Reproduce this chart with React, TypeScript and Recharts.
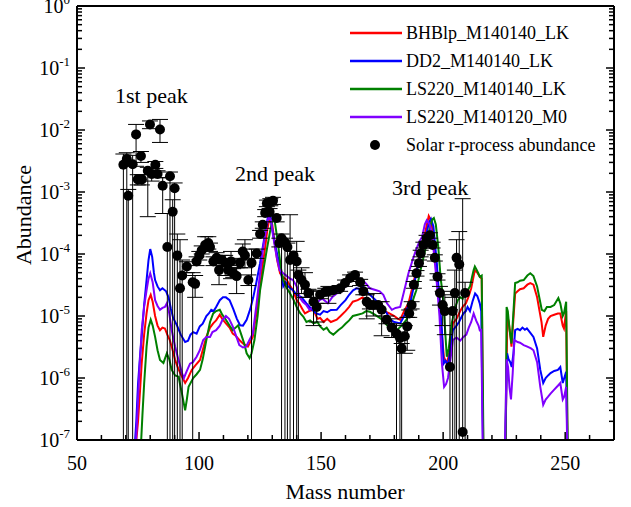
import {
  ComposedChart,
  Line,
  Scatter,
  ErrorBar,
  XAxis,
  YAxis,
  Legend,
  Customized,
} from "recharts";

const FONT = '"Liberation Serif", "Times New Roman", Times, serif';

// model curves, mass number vs abundance (1e-7 = drops to the bottom axis, null = gap)
const bhblpMass = [74.3, 75, 75.8, 76.5, 77.5, 78.5, 79.3, 80.2, 81, 82, 83, 84, 85, 86, 87, 88, 89, 90.2, 91.5, 93, 94.3, 95.5, 97, 98.5, 100.4, 101.5, 103, 104.5, 105.8, 107, 108.5, 109.5, 111, 112.5, 113.8, 115, 116.5, 118, 120, 121, 122, 123.5, 125, 126, 127, 128, 129, 130, 131, 132, 133.2, 134.5, 136, 137, 138.5, 140, 141, 142.3, 143.4, 145, 146.9, 148.5, 149.6, 151, 152.5, 154, 156.4, 158, 160, 161.5, 163, 165, 167, 168.5, 170, 172, 174, 176, 178, 180, 181.5, 182.4, 184, 185.8, 187.5, 189, 190.5, 192, 193.2, 194.1, 195, 196, 197.4, 198.5, 199.5, 200.3, 201.5, 202.5, 204, 205.5, 207, 208, 209.3, 210.3, 211.5, 212.3, 213, 214, 215, 215.8, 216.4, 220, 225.6, 226.3, 226.9, 227.5, 228, 228.7, 229.5, 230.5, 231.5, 233, 234.5, 235.7, 237, 238.5, 239.5, 240.3, 241, 242, 243, 244, 245.5, 247, 248, 249, 249.5, 250.4, 250.9];
const bhblpAbund = [1e-7, 2e-7, 6e-7, 1.7e-6, 5e-6, 1.1e-5, 1.8e-5, 2.2e-5, 1.7e-5, 1e-5, 7e-6, 5.9e-6, 6.5e-6, 6.3e-6, 5e-6, 4.1e-6, 3e-6, 1.95e-6, 1.4e-6, 1.05e-6, 8.3e-7, 1e-6, 1.35e-6, 1.6e-6, 1.95e-6, 2.8e-6, 4.6e-6, 6.5e-6, 7.6e-6, 8.5e-6, 1.05e-5, 9e-6, 7.6e-6, 6.5e-6, 5.2e-6, 4.8e-6, 4.1e-6, 3.6e-6, 3.2e-6, 3.8e-6, 4.6e-6, 1.1e-5, 3e-5, 6.5e-5, 1.2e-4, 2.5e-4, 4e-4, 3e-4, 1.5e-4, 8e-5, 4.9e-5, 4.2e-5, 3.8e-5, 3.2e-5, 2.6e-5, 1.8e-5, 1.6e-5, 1.3e-5, 1.1e-5, 1.2e-5, 1.26e-5, 9e-6, 9.3e-6, 8e-6, 9e-6, 8e-6, 8.7e-6, 1e-5, 1.2e-5, 1.4e-5, 1.7e-5, 1.8e-5, 2e-5, 1.8e-5, 1.6e-5, 1.5e-5, 1.35e-5, 1.2e-5, 1.1e-5, 1e-5, 9e-6, 8.7e-6, 1.2e-5, 1.6e-5, 3e-5, 5.5e-5, 1e-4, 1.7e-4, 2.8e-4, 4.1e-4, 3.5e-4, 2e-4, 6e-5, 1.5e-5, 5e-6, 2.2e-6, 1.7e-6, 2.5e-6, 7.6e-6, 9e-6, 1.2e-5, 1.4e-5, 1.6e-5, 2e-5, 2.8e-5, 4e-5, 5.5e-5, 5e-5, 4.3e-5, 4e-5, 1e-7, null, 1e-7, 1e-5, 8e-6, 5e-6, 3.2e-6, 8e-6, 2.3e-5, 2.5e-5, 2.7e-5, 2.8e-5, 3.2e-5, 3.4e-5, 3.2e-5, 2e-5, 1.2e-5, 8e-6, 4.6e-6, 7e-6, 9e-6, 1e-5, 1.05e-5, 1.1e-5, 1.1e-5, 7e-6, 6.3e-6, 1.2e-5, 1e-7];

const dd2Mass = [73.8, 74.3, 75, 75.8, 76.5, 77.5, 78.5, 79.3, 80, 80.8, 81.5, 82, 83, 84, 85, 86.5, 87.5, 88.5, 89.4, 91, 92.5, 94.3, 95.5, 96.5, 97.6, 99, 100.3, 101.5, 103, 104, 105, 106, 107, 108.5, 109.8, 111, 112.5, 114, 115.5, 116.8, 118, 119.5, 121, 122.2, 123.5, 125, 126.5, 127.5, 128.5, 129.3, 130, 131, 132, 133.2, 134.5, 135.5, 136.5, 138.5, 140, 142, 144, 146, 148, 149.6, 151, 152.5, 154, 156.4, 158, 160, 161.5, 163.1, 164.5, 166, 167.2, 168.5, 170, 171.4, 173, 175, 177, 178.3, 180, 182.4, 184, 185.5, 186.5, 188, 189.2, 190.5, 192, 193.2, 194.2, 195, 196, 197.4, 198.5, 199.5, 200.2, 201, 202, 203, 204, 205.5, 206.5, 208.3, 209.3, 210, 211, 212, 213.1, 214, 215, 215.6, 216.3, 220, 225.5, 226.2, 226.8, 227.5, 228.1, 228.8, 229.5, 230.5, 231.5, 232.5, 233.5, 234.3, 235.5, 237, 238.5, 239.8, 241, 242, 243, 244, 245.5, 247, 248, 249, 250.4, 250.9];
const dd2Abund = [1e-7, 2e-7, 8e-7, 2.2e-6, 4.6e-6, 1.5e-5, 3.8e-5, 8e-5, 1.2e-4, 9e-5, 5e-5, 3.8e-5, 3e-5, 2.6e-5, 2.8e-5, 2.5e-5, 2e-5, 1.3e-5, 9.3e-6, 7e-6, 5e-6, 3.8e-6, 4e-6, 5e-6, 5.5e-6, 5.2e-6, 6.8e-6, 7.5e-6, 1e-5, 1.1e-5, 1.26e-5, 1.2e-5, 1.4e-5, 1.8e-5, 2e-5, 2e-5, 1.8e-5, 1.3e-5, 9e-6, 7.1e-6, 7e-6, 8.7e-6, 1.3e-5, 2e-5, 3.5e-5, 7.1e-5, 1.6e-4, 2.8e-4, 4.5e-4, 4e-4, 2.5e-4, 1.5e-4, 1e-4, 6.3e-5, 3e-5, 3.5e-5, 3e-5, 2.6e-5, 2.2e-5, 2e-5, 1.6e-5, 1.3e-5, 1.1e-5, 1.05e-5, 1.2e-5, 1.15e-5, 1.25e-5, 1.26e-5, 1.5e-5, 1.8e-5, 2.2e-5, 2.6e-5, 2.8e-5, 2.7e-5, 3e-5, 2.5e-5, 2.2e-5, 1.95e-5, 1.7e-5, 1.4e-5, 1.1e-5, 8.7e-6, 8e-6, 7.6e-6, 1e-5, 1.4e-5, 1.6e-5, 3e-5, 5.5e-5, 9e-5, 1.5e-4, 2.2e-4, 3.2e-4, 3.7e-4, 2.8e-4, 7.1e-5, 1.8e-5, 5.9e-6, 1.7e-6, 1.9e-6, 1.6e-6, 3e-6, 5.9e-6, 7e-6, 8e-6, 1.1e-5, 1.2e-5, 1.4e-5, 1.2e-5, 1.7e-5, 2.3e-5, 2.1e-5, 1.6e-5, 1.2e-5, 1e-7, null, 1e-7, 2.5e-6, 2e-6, 1.8e-6, 1.5e-6, 2.5e-6, 5.9e-6, 6.2e-6, 5.9e-6, 6.5e-6, 6e-6, 6.3e-6, 5.5e-6, 4.6e-6, 3e-6, 1.35e-6, 8.3e-7, 1e-6, 1.1e-6, 1.2e-6, 1.3e-6, 1.35e-6, 1.5e-6, 8.3e-7, 1.26e-6, 1e-7];

const ls220Mass = [76.3, 76.8, 77.5, 78.5, 79.3, 80.2, 81, 82, 83, 84, 85.4, 86.8, 87.8, 88.8, 90.2, 91.6, 93, 94.3, 95, 95.7, 97.6, 99, 100.4, 101.5, 103, 104.5, 105.8, 107, 108.5, 109.5, 111, 112.5, 113.8, 115, 116, 117.3, 118.5, 119.5, 120.7, 121.5, 122.7, 124, 125, 126.5, 127.8, 129, 130, 130.6, 131.5, 132.5, 133.5, 134.5, 136, 137.3, 138.5, 140, 141.5, 142.7, 144, 145.5, 146.9, 148.5, 149.6, 151, 152.3, 153.5, 155, 157, 158.5, 160, 161.5, 163, 165, 167, 168.5, 170, 172, 174, 175.5, 177, 179, 181, 183, 185, 186.5, 188, 189, 190.5, 192, 193.3, 194.5, 195.5, 196.2, 197, 198, 199, 200, 200.8, 201.5, 202.3, 203.5, 205, 206, 207, 208, 209, 210, 211, 211.8, 212.5, 213, 213.8, 214.5, 215, 215.8, 216.5, 220, 225.6, 226, 226.5, 227.2, 228, 228.7, 229.5, 230.5, 231.5, 233, 234.5, 235.7, 237, 238.5, 239.5, 240.4, 241.5, 242.5, 244, 245.5, 247.2, 248, 249, 249.5, 250.4, 251];
const ls220Abund = [1e-7, 2.5e-7, 8e-7, 3.2e-6, 6.5e-6, 8.7e-6, 7e-6, 4.6e-6, 2.8e-6, 1.95e-6, 1.75e-6, 2.5e-6, 2e-6, 1.35e-6, 1.1e-6, 1.05e-6, 5.6e-7, 3e-7, 4.5e-7, 7.2e-7, 1e-6, 1.15e-6, 1.35e-6, 2e-6, 4.1e-6, 8e-6, 1.1e-5, 1.2e-5, 1.26e-5, 1.05e-5, 8.7e-6, 7e-6, 5.9e-6, 6.5e-6, 7.1e-6, 5e-6, 3.6e-6, 2.5e-6, 2.1e-6, 2.5e-6, 4.1e-6, 1e-5, 2.6e-5, 6e-5, 1.2e-4, 2.2e-4, 3.5e-4, 4.3e-4, 2.5e-4, 1.3e-4, 6e-5, 3.8e-5, 2.8e-5, 2.3e-5, 1.9e-5, 1.4e-5, 1.1e-5, 9.8e-6, 8e-6, 8.5e-6, 7.6e-6, 8e-6, 6.8e-6, 6e-6, 6.5e-6, 5.5e-6, 5e-6, 5.9e-6, 6.5e-6, 7.5e-6, 8.5e-6, 1e-5, 1.05e-5, 1.1e-5, 1.2e-5, 1.17e-5, 1.05e-5, 9.3e-6, 8.5e-6, 7.1e-6, 6.3e-6, 5.9e-6, 7e-6, 8.7e-6, 1.3e-5, 2e-5, 2.6e-5, 5e-5, 9e-5, 1.5e-4, 2.6e-4, 3.6e-4, 3.8e-4, 3e-4, 1.3e-4, 4e-5, 2e-5, 6e-6, 2.2e-6, 3e-6, 7.6e-6, 1.4e-5, 1.8e-5, 2e-5, 1.9e-5, 2.4e-5, 2.6e-5, 3e-5, 4.2e-5, 5.5e-5, 6.3e-5, 5.5e-5, 4.8e-5, 4.3e-5, 4.5e-5, 1e-7, null, 1e-7, 1.4e-5, 1.2e-5, 6e-6, 3.6e-6, 1e-5, 3.4e-5, 3.5e-5, 3.7e-5, 3.8e-5, 4.5e-5, 4.9e-5, 4.4e-5, 3e-5, 1.9e-5, 1.26e-5, 1.2e-5, 1.4e-5, 1.4e-5, 1.5e-5, 1.95e-5, 1.6e-5, 1e-5, 1.1e-5, 1.7e-5, 1e-7];

const m0Mass = [74.2, 74.8, 75.5, 76.5, 77.5, 78.5, 79.3, 80, 81, 82, 83, 84, 85, 86, 86.8, 87.8, 88.8, 90.2, 91.6, 93, 93.8, 95, 96.3, 97.5, 99, 100.3, 101.7, 103, 104.5, 105.5, 107, 108.5, 109.5, 111, 112.3, 113.8, 115, 116.5, 118, 119.3, 120.5, 122, 123.5, 125, 126.3, 127.5, 128.5, 129.5, 130.3, 131.8, 133, 134.5, 136, 137.3, 138.5, 140, 141.2, 142.5, 144, 145.3, 147, 149.4, 150.5, 152.8, 154.5, 156.4, 158, 160, 161.5, 163, 164.5, 166, 167, 168.5, 170, 172.6, 174, 175.5, 177, 179, 180.5, 182.4, 184, 185.8, 187.5, 189, 190.3, 191.4, 192.5, 193.3, 194.5, 195.5, 196.5, 197.4, 198.5, 199.5, 200.4, 201.2, 202, 203, 204, 205.5, 207, 208.3, 209.5, 210.5, 211.5, 212.5, 213.5, 214.5, 215, 215.6, 216.2, 220, 225.4, 226, 226.6, 227.2, 227.8, 228.5, 229.2, 230.5, 231.5, 233, 234.5, 236, 237, 238.5, 239.8, 241, 242, 243, 244, 245.5, 247, 248, 249, 249.6, 250.4, 250.8];
const m0Abund = [1e-7, 3e-7, 1.2e-6, 5.9e-6, 1.4e-5, 2.6e-5, 4e-5, 4.9e-5, 3.5e-5, 1.8e-5, 1.45e-5, 1.26e-5, 1.35e-5, 1.4e-5, 1.6e-5, 1.1e-5, 5.9e-6, 3.2e-6, 1.95e-6, 1.2e-6, 1e-6, 1.3e-6, 1.7e-6, 1.8e-6, 2.2e-6, 2.8e-6, 4.1e-6, 4.6e-6, 4.6e-6, 5.5e-6, 5.9e-6, 7e-6, 8.5e-6, 1e-5, 9e-6, 6.8e-6, 5e-6, 3.4e-6, 3.1e-6, 3.2e-6, 4e-6, 5.2e-6, 1.5e-5, 4.9e-5, 1.3e-4, 2.5e-4, 4e-4, 3.5e-4, 2e-4, 9e-5, 5.5e-5, 4.9e-5, 4.4e-5, 4e-5, 3.8e-5, 3e-5, 2e-5, 1.7e-5, 1.5e-5, 1.26e-5, 1.4e-5, 1.8e-5, 1.9e-5, 1.6e-5, 2e-5, 2.3e-5, 2.6e-5, 3e-5, 3.5e-5, 4.3e-5, 4.5e-5, 3.8e-5, 3.8e-5, 3.3e-5, 2.8e-5, 2.6e-5, 2.5e-5, 2.2e-5, 1.6e-5, 1.26e-5, 1.35e-5, 1.4e-5, 2.5e-5, 4.9e-5, 8e-5, 1.2e-4, 1.6e-4, 1.9e-4, 3e-4, 3.5e-4, 3e-4, 2e-4, 8e-5, 3.4e-5, 1e-5, 1.7e-6, 7.2e-7, 8e-7, 1e-6, 2e-6, 4.1e-6, 4.5e-6, 4e-6, 4.6e-6, 5e-6, 6.5e-6, 8e-6, 1.1e-5, 8.5e-6, 7e-6, 5.9e-6, 6e-6, 1e-7, null, 1e-7, 2e-6, 1.5e-6, 7e-7, 4.5e-7, 1.2e-6, 4.1e-6, 3.8e-6, 3.7e-6, 3.4e-6, 3.2e-6, 3e-6, 2.8e-6, 1.8e-6, 7.2e-7, 3.7e-7, 4.5e-7, 5e-7, 5.6e-7, 6.5e-7, 7.5e-7, 8.3e-7, 4.5e-7, 5e-7, 7.2e-7, 1e-7];

// solar r-process abundance with error bar ends (1e-7 = bar runs down to the axis)
const solarMass = [69, 70.4, 71, 72.8, 74.2, 74.9, 76.2, 76.6, 79, 79.9, 80.6, 82.1, 83, 84, 85.1, 87, 88.1, 89.2, 90, 91.1, 92.2, 93.1, 95, 97.4, 98.4, 99, 100.1, 101.1, 102.5, 103.8, 104.5, 105.9, 107.2, 108.2, 109.3, 110.7, 112, 113.1, 114, 115.4, 116.8, 117.9, 118.8, 120.2, 121.5, 123.6, 125, 126.1, 127.1, 127.8, 128.9, 129.2, 130.3, 131.8, 132.9, 133.8, 135.2, 136.2, 137.3, 138.7, 140, 140.7, 142, 143.4, 144.8, 146.9, 148.2, 149.6, 151.7, 153, 155, 157.8, 159.8, 161.9, 163.9, 166, 167.3, 168.7, 170, 171.4, 173.4, 174.8, 176.8, 178.9, 180.9, 182.3, 183, 184.3, 185.3, 186.1, 187.1, 188, 189.1, 190.1, 190.8, 191.9, 193.2, 194.6, 195.7, 196.6, 197.7, 198.7, 199.8, 200.7, 202.8, 203.9, 204.8, 205.5, 206.6, 208, 209];
const solarAbund = [2.75e-3, 3.4e-3, 8.7e-4, 2.8e-3, 8.5e-3, 1.6e-3, 3.8e-3, 1.6e-3, 2.2e-3, 1.23e-2, 1.95e-3, 2.75e-3, 1.95e-3, 1.02e-2, 1.26e-3, 1.3e-4, 1.8e-3, 4.8e-4, 1.15e-3, 9.5e-5, 2.8e-5, 4.5e-5, 6.3e-5, 3.5e-5, 3.3e-5, 7.6e-5, 9.5e-5, 1.15e-4, 1.4e-4, 1.5e-4, 1.3e-4, 7.6e-5, 8.7e-5, 5.5e-5, 8.1e-5, 7.2e-5, 5.5e-5, 7.6e-5, 4.9e-5, 4.4e-5, 7.2e-5, 1.1e-4, 9.5e-5, 3.8e-5, 7.2e-5, 1.02e-4, 2.1e-4, 2.95e-4, 4.6e-4, 6.6e-4, 4.8e-4, 6.9e-4, 7.2e-4, 3.8e-4, 1.5e-4, 1.8e-4, 1.55e-4, 1.3e-4, 8e-5, 9.5e-5, 7.6e-5, 4.6e-5, 3.8e-5, 3.2e-5, 2.35e-5, 1.7e-5, 1.4e-5, 2.2e-5, 2.45e-5, 2.5e-5, 2.6e-5, 2.8e-5, 3.4e-5, 4.1e-5, 4.6e-5, 3.5e-5, 2.5e-5, 1.7e-5, 1.5e-5, 1.5e-5, 1.5e-5, 1.26e-5, 8.7e-6, 6.5e-6, 5.2e-6, 4.4e-6, 3e-6, 4.7e-6, 6.8e-6, 1.1e-5, 1.5e-5, 3.2e-5, 4.9e-5, 7.1e-5, 1.02e-4, 1.4e-4, 1.8e-4, 2e-4, 1.4e-4, 8.7e-5, 4.3e-5, 2.35e-5, 1.5e-5, 1.2e-5, 1.5e-6, 1.2e-5, 2.35e-5, 8.7e-5, 6.8e-5, 1.35e-7, 2.35e-5];
const solarHigh = [4.1e-3, 4.3e-3, 1.1e-3, 3.9e-3, 1.23e-2, 1.9e-3, 4.5e-3, 1.9e-3, 2.5e-3, 1.4e-2, 2.4e-3, 3.1e-3, 2.2e-3, 1.48e-2, 1.7e-3, 4.5e-4, 2.1e-3, 7.5e-4, 1.4e-3, 2.1e-4, 1.7e-4, 8e-5, 7.5e-5, 5e-5, 4.5e-5, 9e-5, 1.1e-4, 1.35e-4, 1.9e-4, 1.9e-4, 1.5e-4, 9e-5, 1.05e-4, 7e-5, 9.5e-5, 9.5e-5, 6.5e-5, 1.1e-4, 5.8e-5, 6e-5, 8.5e-5, 1.45e-4, 1.7e-4, 4.6e-5, 1.2e-4, 1.2e-4, 2.4e-4, 3.3e-4, 5.2e-4, 7.4e-4, 5.4e-4, 7.8e-4, 8.2e-4, 4.3e-4, 1.8e-4, 2.1e-4, 1.8e-4, 1.5e-4, 4.3e-4, 1.1e-4, 1.6e-4, 5.5e-5, 6e-5, 5e-5, 2.7e-5, 2.6e-5, 1.6e-5, 2.5e-5, 2.8e-5, 3e-5, 2.9e-5, 3.1e-5, 3.8e-5, 4.6e-5, 5.1e-5, 3.9e-5, 2.8e-5, 2.2e-5, 1.7e-5, 2.3e-5, 1.7e-5, 1.7e-5, 1e-5, 9e-6, 7.5e-6, 5.5e-6, 3.6e-6, 7e-6, 9.5e-6, 1.25e-5, 1.7e-5, 3.6e-5, 5.4e-5, 8e-5, 1.15e-4, 1.55e-4, 2e-4, 2.2e-4, 1.55e-4, 9.7e-5, 4.8e-5, 3e-5, 2.5e-5, 2.2e-5, 1.26e-5, 2e-5, 5.5e-5, 1.7e-4, 2.3e-4, 7.8e-4, 3.5e-5];
const solarLow = [1e-7, 1e-7, 1e-7, 1e-7, 2.6e-3, 1.3e-3, 3e-3, 1.3e-3, 4e-4, 1.05e-2, 1.5e-3, 2.4e-3, 1.7e-3, 6.3e-3, 4.5e-4, 1e-7, 1e-7, 1e-7, 1e-7, 1e-7, 1e-7, 1e-7, 5e-5, 1e-7, 2e-5, 6.5e-5, 8e-5, 1e-4, 1.15e-4, 1.2e-4, 1.1e-4, 6.5e-5, 7.5e-5, 3.2e-5, 7e-5, 4.5e-5, 4.5e-5, 4e-5, 4.2e-5, 2.3e-5, 6e-5, 8e-5, 6e-5, 3.1e-5, 1e-7, 8.5e-5, 1.8e-4, 2.6e-4, 4e-4, 5.8e-4, 4.2e-4, 6e-4, 6.3e-4, 3.3e-4, 1.3e-4, 1e-7, 1e-7, 1e-7, 1e-7, 1e-7, 1e-7, 1e-7, 2.3e-5, 2e-5, 2e-5, 7e-6, 8e-6, 1.9e-5, 2.1e-5, 1.6e-5, 2.3e-5, 2.5e-5, 3e-5, 3.6e-5, 4.1e-5, 3.1e-5, 2.2e-5, 9e-6, 1.3e-5, 1e-5, 1.3e-5, 4.8e-6, 7.5e-6, 4.5e-6, 1e-7, 1e-7, 1e-7, 2.5e-6, 2.8e-6, 9.5e-6, 1.3e-5, 2.8e-5, 4.4e-5, 6.3e-5, 9e-5, 1.25e-4, 1.6e-4, 1.8e-4, 1.25e-4, 7.7e-5, 3.8e-5, 1.5e-5, 7e-6, 5e-6, 1e-7, 1e-7, 1e-7, 1e-7, 1e-7, 1e-7, 1e-7];

const legendNames = ["BHBlp_M140140_LK", "DD2_M140140_LK", "LS220_M140140_LK", "LS220_M140120_M0"];
const legendColors = ["#ff0000", "#0000ff", "#008000", "#8000ff"];
const solarName = "Solar r-process abundance";

const xTicks = [50, 60, 70, 80, 90, 100, 110, 120, 130, 140, 150, 160, 170, 180, 190, 200, 210, 220, 230, 240, 250, 260, 270];
const yDecades = [1e-7, 1e-6, 1e-5, 1e-4, 1e-3, 1e-2, 1e-1, 1];
const yTicks = yDecades.flatMap((d) => (d === 1 ? [1] : [1, 2, 3, 4, 5, 6, 7, 8, 9].map((k) => k * d)));

const toRows = (mass: number[], abund: (number | null)[]) => mass.map((A, i) => ({ A, y: abund[i] }));
const series = [
  toRows(bhblpMass, bhblpAbund),
  toRows(dd2Mass, dd2Abund),
  toRows(ls220Mass, ls220Abund),
  toRows(m0Mass, m0Abund),
];
const solarData = solarMass.map((A, i) => ({
  A,
  y: solarAbund[i],
  err: [solarAbund[i] - solarLow[i], solarHigh[i] - solarAbund[i]],
}));

const isDecade = (v: number) => Math.abs(Math.log10(v) - Math.round(Math.log10(v))) < 1e-6;

const BottomTick = ({ x, y, payload }: any) => {
  const v = payload.value;
  const major = v % 50 === 0;
  return (
    <g>
      <line x1={x} x2={x} y1={y} y2={y - (major ? 8 : 5)} stroke="#000" strokeWidth={1.5} />
      {major && v <= 250 && (
        <text x={x} y={y + 30} textAnchor="middle" fontSize={20} fontFamily={FONT} fill="#000">
          {v}
        </text>
      )}
    </g>
  );
};

const TopTick = ({ x, y, payload }: any) => {
  const major = payload.value % 50 === 0;
  return <line x1={x} x2={x} y1={y} y2={y + (major ? 8 : 5)} stroke="#000" strokeWidth={1.5} />;
};

const LeftTick = ({ x, y, payload }: any) => {
  const v = payload.value;
  const major = isDecade(v);
  return (
    <g>
      <line x1={x} x2={x + (major ? 8 : 5)} y1={y} y2={y} stroke="#000" strokeWidth={1.5} />
      {major && (
        <text x={x - 7} y={y + 7} textAnchor="end" fontSize={20} fontFamily={FONT} fill="#000">
          10
          <tspan dy={-9} fontSize={13}>
            {Math.round(Math.log10(v))}
          </tspan>
        </text>
      )}
    </g>
  );
};

const RightTick = ({ x, y, payload }: any) => {
  const major = isDecade(payload.value);
  return <line x1={x} x2={x - (major ? 8 : 5)} y1={y} y2={y} stroke="#000" strokeWidth={1.5} />;
};

const SolarDot = ({ cx, cy }: any) => <circle cx={cx} cy={cy} r={5} fill="#000" />;

const renderLegend = () => (
  <div style={{ fontFamily: FONT, fontSize: 18, color: "#000", lineHeight: 1 }}>
    {legendNames.map((name, i) => (
      <div key={name} style={{ display: "flex", alignItems: "center", height: 28 }}>
        <svg width={61} height={10}>
          <line x1={5} x2={57} y1={5} y2={5} stroke={legendColors[i]} strokeWidth={2.5} />
        </svg>
        <span>{name}</span>
      </div>
    ))}
    <div style={{ display: "flex", alignItems: "center", height: 28 }}>
      <svg width={61} height={12}>
        <circle cx={30} cy={6} r={5} fill="#000" />
      </svg>
      <span>{solarName}</span>
    </div>
  </div>
);

const Annotations = () => (
  <g fontFamily={FONT} fill="#000">
    <text x={115} y={103} fontSize={22}>1st peak</text>
    <text x={235} y={181} fontSize={22}>2nd peak</text>
    <text x={392} y={195} fontSize={22}>3rd peak</text>
    <text x={345} y={499} fontSize={22} textAnchor="middle">Mass number</text>
    <text transform="translate(31,215) rotate(-90)" fontSize={22} textAnchor="middle">Abundance</text>
  </g>
);

const axisLine = { stroke: "#000", strokeWidth: 2 };

export default function App() {
  return (
    <div style={{ position: "absolute", left: 0, top: 0, width: 631, height: 507, background: "#fff" }}>
      <ComposedChart width={631} height={507} margin={{ top: 5, right: 16, bottom: 66, left: 76 }}>
        <XAxis
          dataKey="A"
          type="number"
          domain={[50, 270]}
          ticks={xTicks}
          interval={0}
          height={1}
          tickSize={0}
          tickMargin={0}
          tickLine={false}
          axisLine={axisLine}
          tick={<BottomTick />}
          allowDataOverflow
        />
        <XAxis
          xAxisId="top"
          orientation="top"
          type="number"
          domain={[50, 270]}
          ticks={xTicks}
          interval={0}
          height={1}
          tickSize={0}
          tickMargin={0}
          tickLine={false}
          axisLine={axisLine}
          tick={<TopTick />}
        />
        <YAxis
          type="number"
          scale="log"
          domain={[1e-7, 1]}
          ticks={yTicks}
          interval={0}
          width={1}
          tickSize={0}
          tickMargin={0}
          tickLine={false}
          axisLine={axisLine}
          tick={<LeftTick />}
          allowDataOverflow
        />
        <YAxis
          yAxisId="right"
          orientation="right"
          type="number"
          scale="log"
          domain={[1e-7, 1]}
          ticks={yTicks}
          interval={0}
          width={1}
          tickSize={0}
          tickMargin={0}
          tickLine={false}
          axisLine={axisLine}
          tick={<RightTick />}
          allowDataOverflow
        />
        {series.map((rows, i) => (
          <Line
            key={legendNames[i]}
            data={rows}
            dataKey="y"
            name={legendNames[i]}
            type="linear"
            stroke={legendColors[i]}
            strokeWidth={2}
            dot={false}
            activeDot={false}
            isAnimationActive={false}
          />
        ))}
        <Scatter data={solarData} dataKey="y" name={solarName} shape={<SolarDot />} isAnimationActive={false}>
          <ErrorBar dataKey="err" direction="y" width={8} stroke="#000" strokeWidth={1} />
        </Scatter>
        <Legend
          layout="vertical"
          align="center"
          verticalAlign="middle"
          content={renderLegend}
          wrapperStyle={{ left: 345, top: 19, width: 270 }}
        />
        <Customized component={<Annotations />} />
      </ComposedChart>
    </div>
  );
}
